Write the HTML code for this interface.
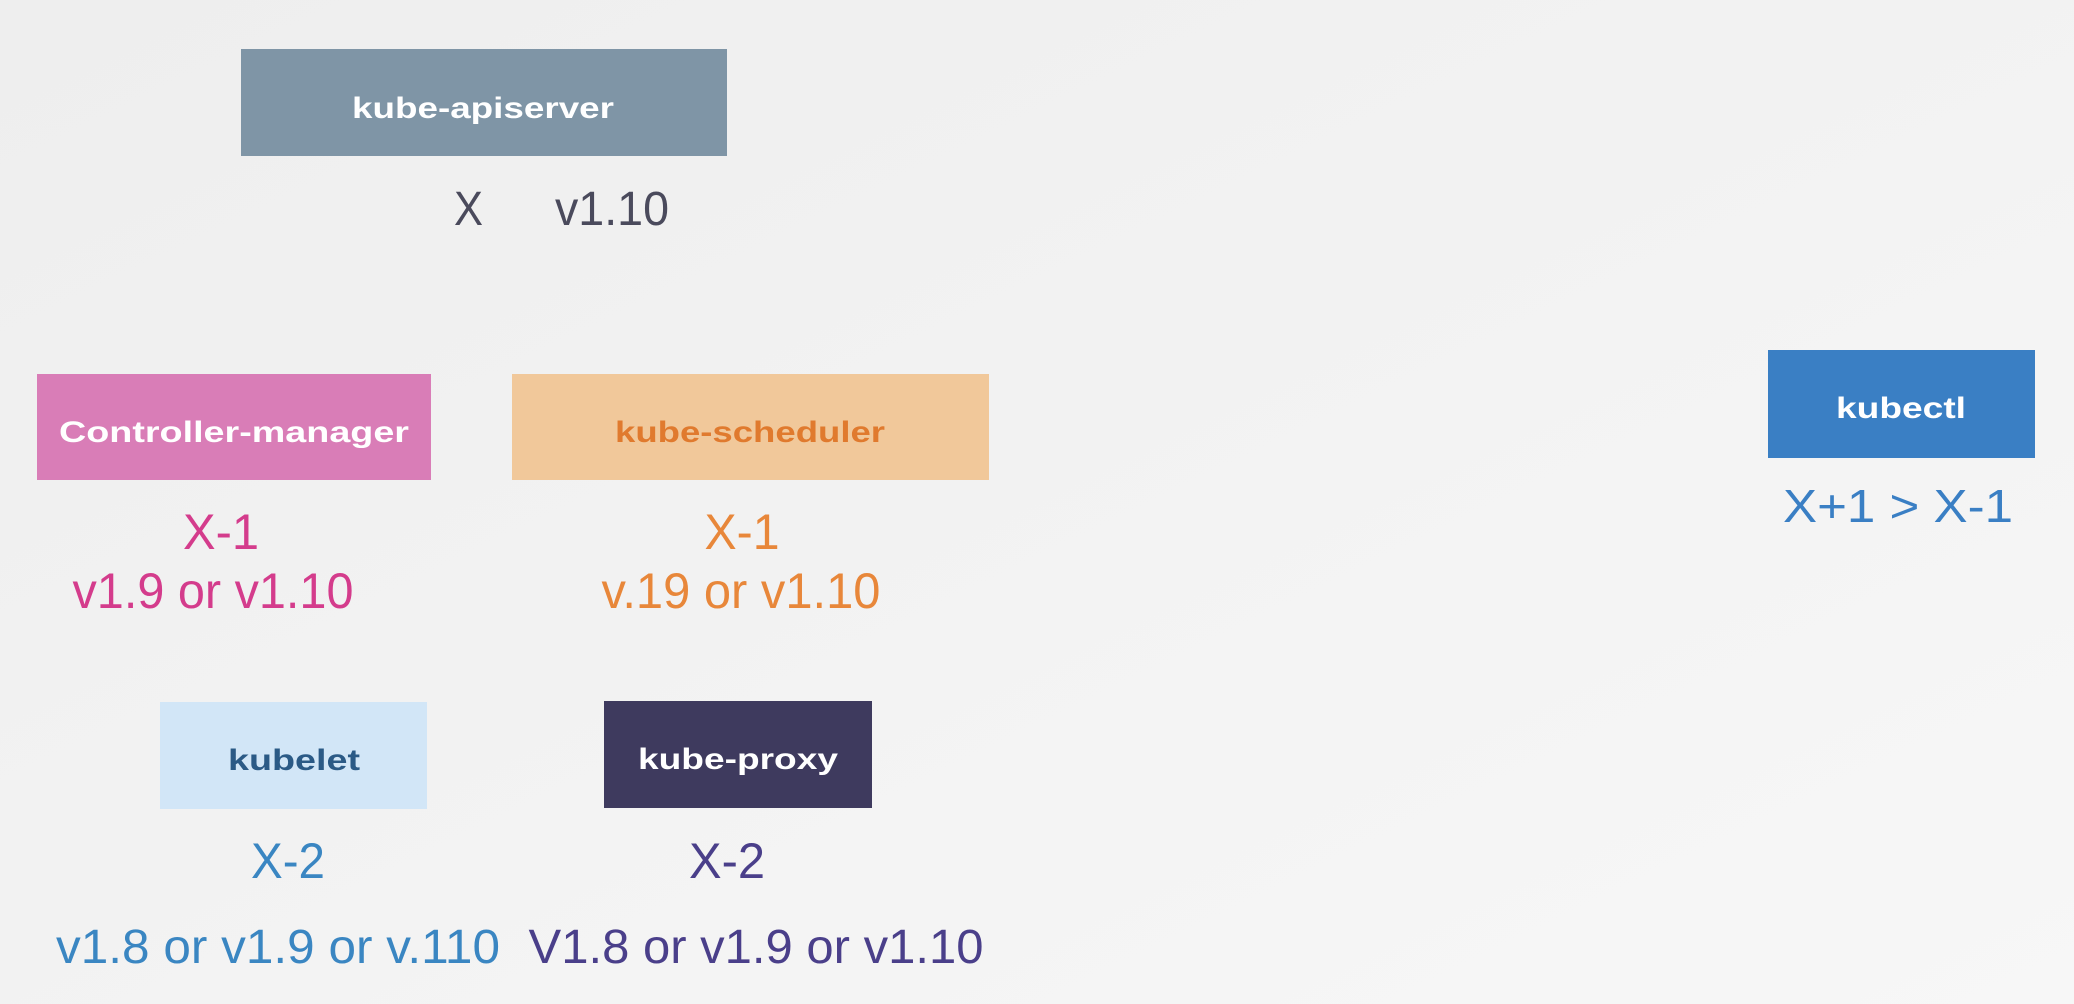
<!DOCTYPE html>
<html><head><meta charset="utf-8"><style>
html,body{margin:0;padding:0;width:2074px;height:1004px;overflow:hidden;background:#f1f1f1}
svg{display:block}
text{font-family:"Liberation Sans",sans-serif}
</style></head><body>
<svg width="2074" height="1004" viewBox="0 0 2074 1004">
<defs><linearGradient id="bg" x1="0" y1="0" x2="1" y2="1"><stop offset="0" stop-color="#eeeeee"/><stop offset="1" stop-color="#f7f7f7"/></linearGradient></defs>
<rect width="2074" height="1004" fill="url(#bg)"/>

<g>
<rect x="241" y="49" width="486" height="107" fill="#7f95a6"/>
<text x="483" y="118" text-anchor="middle" font-size="30" font-weight="bold" fill="#fff" textLength="262" lengthAdjust="spacingAndGlyphs">kube-apiserver</text>
</g>
<text x="454" y="225" font-size="48" fill="#4a4a5c" textLength="29" lengthAdjust="spacingAndGlyphs">X</text>
<text x="555" y="225" font-size="48" fill="#4a4a5c" textLength="114" lengthAdjust="spacingAndGlyphs">v1.10</text>

<g>
<rect x="37" y="374" width="394" height="106" fill="#d97db7"/>
<text x="234" y="442" text-anchor="middle" font-size="30" font-weight="bold" fill="#fff" textLength="350" lengthAdjust="spacingAndGlyphs">Controller-manager</text>
</g>
<text x="221" y="549" text-anchor="middle" font-size="50" fill="#d43c8c" textLength="76" lengthAdjust="spacingAndGlyphs">X-1</text>
<text x="213" y="608" text-anchor="middle" font-size="50" fill="#d43c8c" textLength="281" lengthAdjust="spacingAndGlyphs">v1.9 or v1.10</text>

<g>
<rect x="512" y="374" width="477" height="106" fill="#f1c89a"/>
<text x="750" y="442" text-anchor="middle" font-size="30" font-weight="bold" fill="#e07a2e" textLength="270" lengthAdjust="spacingAndGlyphs">kube-scheduler</text>
</g>
<text x="742" y="549" text-anchor="middle" font-size="50" fill="#e8873a" textLength="75" lengthAdjust="spacingAndGlyphs">X-1</text>
<text x="741" y="608" text-anchor="middle" font-size="50" fill="#e8873a" textLength="279" lengthAdjust="spacingAndGlyphs">v.19 or v1.10</text>

<g>
<rect x="1768" y="350" width="267" height="108" fill="#3a7fc4"/>
<text x="1901" y="418" text-anchor="middle" font-size="30" font-weight="bold" fill="#fff" textLength="130" lengthAdjust="spacingAndGlyphs">kubectl</text>
</g>
<text x="1898" y="522" text-anchor="middle" font-size="46" fill="#3a7fc4" textLength="230" lengthAdjust="spacingAndGlyphs">X+1 &gt; X-1</text>

<g>
<rect x="160" y="702" width="267" height="107" fill="#d2e6f7"/>
<text x="294" y="770" text-anchor="middle" font-size="30" font-weight="bold" fill="#2b5a86" textLength="132" lengthAdjust="spacingAndGlyphs">kubelet</text>
</g>
<text x="288" y="878" text-anchor="middle" font-size="50" fill="#3a86c2" textLength="74" lengthAdjust="spacingAndGlyphs">X-2</text>
<text x="278" y="963" text-anchor="middle" font-size="48" fill="#3a86c2" textLength="444" lengthAdjust="spacingAndGlyphs">v1.8 or v1.9 or v.110</text>

<g>
<rect x="604" y="701" width="268" height="107" fill="#3e3a5e"/>
<text x="738" y="769" text-anchor="middle" font-size="30" font-weight="bold" fill="#fff" textLength="200" lengthAdjust="spacingAndGlyphs">kube-proxy</text>
</g>
<text x="727" y="878" text-anchor="middle" font-size="50" fill="#4a3f8a" textLength="76" lengthAdjust="spacingAndGlyphs">X-2</text>
<text x="756" y="963" text-anchor="middle" font-size="48" fill="#4a3f8a" textLength="455" lengthAdjust="spacingAndGlyphs">V1.8 or v1.9 or v1.10</text>
</svg>
</body></html>
